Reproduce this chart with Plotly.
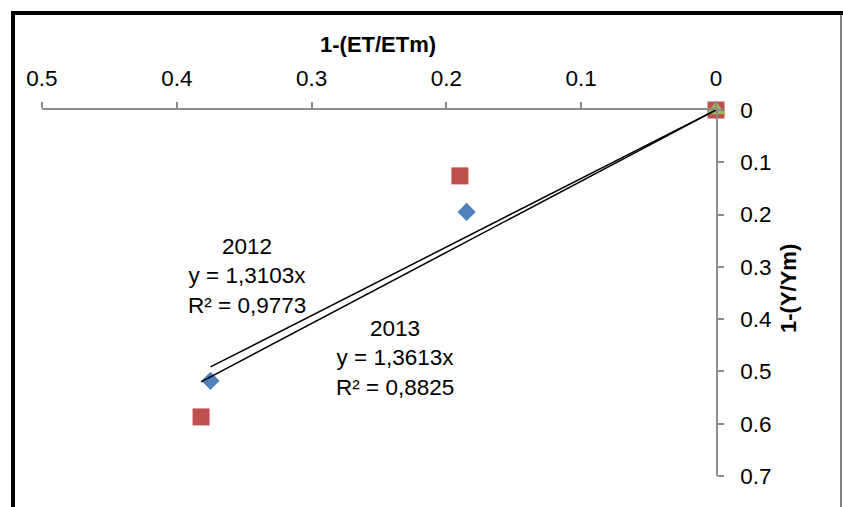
import plotly.graph_objects as go

# Data
x_2012 = [0.0, 0.185, 0.375]
y_2012 = [0.0, 0.195, 0.518]
x_2013 = [0.0, 0.190, 0.382]
y_2013 = [0.0, 0.126, 0.587]
x_origin = [0.0]
y_origin = [0.0]

slope_2012 = 1.3103
slope_2013 = 1.3613
r2_2012 = "0,9773"
r2_2013 = "0,8825"

x_ticks = [0.5, 0.4, 0.3, 0.2, 0.1, 0]
y_ticks = [0, 0.1, 0.2, 0.3, 0.4, 0.5, 0.6, 0.7]

FONT = "Liberation Sans, Arial, Helvetica, sans-serif"
FS = 22.5

fig = go.Figure()

fig.add_trace(go.Scatter(x=x_2012, y=y_2012, mode="markers", cliponaxis=False,
                         marker=dict(symbol="diamond", size=14, color="#4F81BD"),
                         showlegend=False))
fig.add_trace(go.Scatter(x=x_2013, y=y_2013, mode="markers", cliponaxis=False,
                         marker=dict(symbol="square", size=17, color="#C0504D"),
                         showlegend=False))
fig.add_trace(go.Scatter(x=x_origin, y=y_origin, mode="markers", cliponaxis=False,
                         marker=dict(symbol="triangle-up", size=17, color="#9BBB59"),
                         showlegend=False))

# Trendlines (through origin)
xm12 = max(x_2012)
xm13 = max(x_2013)
fig.add_trace(go.Scatter(x=[0, xm12], y=[0, slope_2012 * xm12], mode="lines",
                         line=dict(color="black", width=1.5), cliponaxis=False,
                         showlegend=False))
fig.add_trace(go.Scatter(x=[0, xm13], y=[0, slope_2013 * xm13], mode="lines",
                         line=dict(color="black", width=1.5), cliponaxis=False,
                         showlegend=False))

fig.add_annotation(x=0.348, y=0.318, xref="x", yref="y", showarrow=False,
                   xanchor="center", yanchor="middle",
                   text="2012<br>y = 1,3103x<br>R² = " + r2_2012,
                   font=dict(family=FONT, size=FS, color="black"), align="center")
fig.add_annotation(x=0.238, y=0.474, xref="x", yref="y", showarrow=False,
                   xanchor="center", yanchor="middle",
                   text="2013<br>y = 1,3613x<br>R² = " + r2_2013,
                   font=dict(family=FONT, size=FS, color="black"), align="center")


# page pixel -> paper coords (plot area spans page x 42..716, y 110..476)
def px_x(p):
    return (p - 42) / 674


def px_y(p):
    return (476 - p) / 366


# Axis titles
fig.add_annotation(x=px_x(378), y=px_y(45), xref="paper", yref="paper",
                   xanchor="center", yanchor="middle",
                   showarrow=False, text="<b>1-(ET/ETm)</b>",
                   font=dict(family=FONT, size=22, color="black"))
fig.add_annotation(x=px_x(788), y=px_y(288), xref="paper", yref="paper",
                   xanchor="center", yanchor="middle",
                   showarrow=False, text="<b>1-(Y/Ym)</b>", textangle=-90,
                   font=dict(family=FONT, size=22, color="black"))

# Frame
fig.add_shape(type="line", xref="paper", yref="paper", x0=px_x(13), x1=px_x(13),
              y0=px_y(11), y1=px_y(520), line=dict(color="black", width=4))
fig.add_shape(type="line", xref="paper", yref="paper", x0=px_x(11), x1=px_x(850),
              y0=px_y(13), y1=px_y(13), line=dict(color="black", width=4))
fig.add_shape(type="line", xref="paper", yref="paper", x0=px_x(841), x1=px_x(841),
              y0=px_y(13), y1=px_y(520), line=dict(color="black", width=1))

fig.update_layout(
    width=843, height=507,
    margin=dict(l=42, r=127, t=110, b=31),
    paper_bgcolor="white", plot_bgcolor="white",
    font=dict(family=FONT, size=FS, color="black"),
    xaxis=dict(range=[0.5, 0], side="top", tickvals=x_ticks,
               ticktext=[f"{v:g}" for v in x_ticks],
               showgrid=False, zeroline=False, showline=True,
               linecolor="#8c8c8c", linewidth=1.5,
               ticks="outside", ticklen=6, tickcolor="#8c8c8c", tickwidth=1.5,
               ticklabelstandoff=7, anchor="y"),
    yaxis=dict(range=[0.7, 0], side="right", tickvals=y_ticks,
               ticktext=[f"{v:g}" for v in y_ticks],
               showgrid=False, zeroline=False, showline=True,
               linecolor="#8c8c8c", linewidth=1.5,
               ticks="outside", ticklen=6, tickcolor="#8c8c8c", tickwidth=1.5,
               ticklabelstandoff=12, anchor="x"),
)

fig.write_html(
    "out.html",
    config={"displayModeBar": False},
    post_script="document.body.style.margin='0';document.body.style.overflow='hidden';",
)
